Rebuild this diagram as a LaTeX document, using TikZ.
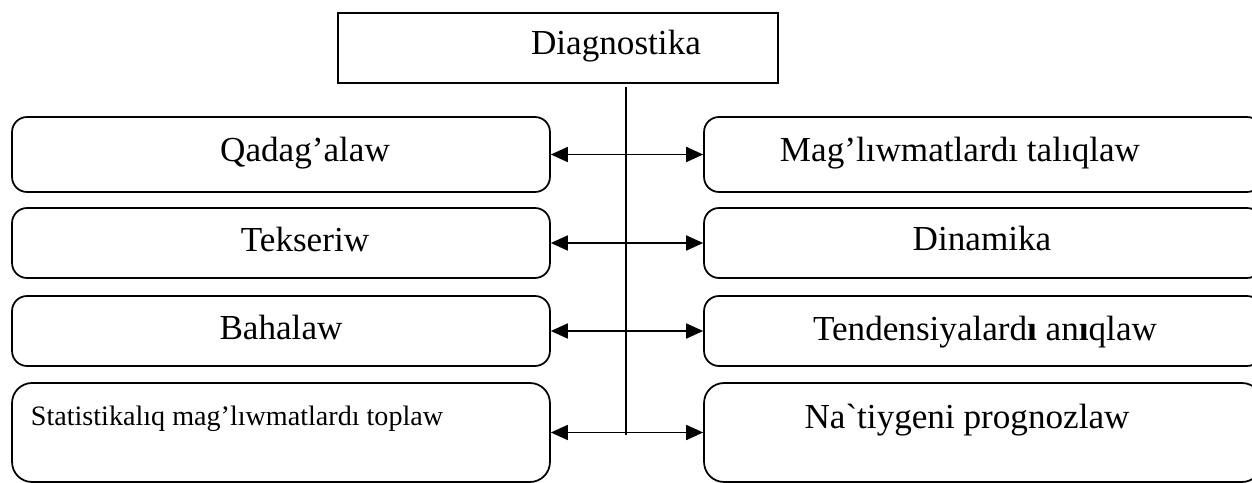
\documentclass[tikz,border=0pt]{standalone}
\usepackage{fontspec}
\setmainfont{Liberation Serif}[Ligatures=TeXOff]
\usetikzlibrary{arrows.meta}

\begin{document}
\begin{tikzpicture}[x=0.02cm, y=-0.02cm, >={Triangle[length=0.34cm, width=0.3cm]}]
	\tikzstyle{head}=[rectangle, draw, line width=1pt, inner sep=0pt,
	minimum width=8.8cm, minimum height=1.4cm]
	\tikzstyle{leftbox}=[rectangle, draw, line width=1pt, rounded corners=0.3cm,
	inner sep=0pt, minimum width=10.76cm, minimum height=1.4cm]
	\tikzstyle{rightbox}=[leftbox, minimum width=11.16cm]
	\tikzstyle{label}=[anchor=base, inner sep=0pt, font=\fontsize{20}{24}\selectfont]
	\tikzstyle{link}=[line width=1pt, <->]

	\useasboundingbox (0,0) rectangle (1252,483);

	% top box and trunk
	\node[head] at (558,48) (diag) {};
	\node[label] at (616,55) (diagtext) {Diagnostika};
	\coordinate (trunktop) at (626,87);
	\coordinate (trunkbot) at (626,435);
	\draw[line width=0.9pt] (trunktop) -- (trunkbot);

	% left column
	\node[leftbox, minimum height=1.5cm] at (281,154.5) (qadag) {};
	\node[leftbox] at (281,243) (tekser) {};
	\node[leftbox] at (281,331) (bahal) {};
	\node[leftbox, minimum height=1.98cm, rounded corners=0.4cm] at (281,432.5) (stat) {};

	\node[label] at (305,162) (qadagtext) {Qadag’alaw};
	\node[label] at (305,252) (tekseriwtext) {Tekseriw};
	\node[label] at (281,339) (bahalawtext) {Bahalaw};
	\node[label, font=\fontsize{16}{20}\selectfont] at (237,425) (stattext)
	{Statistikalıq mag’lıwmatlardı toplaw};

	% right column
	\node[rightbox, minimum height=1.5cm] at (983,154.5) (magl) {};
	\node[rightbox] at (983,243) (dinam) {};
	\node[rightbox] at (983,331) (tend) {};
	\node[rightbox, minimum height=1.98cm, rounded corners=0.4cm] at (983,432.5) (natiy) {};

	\node[label] at (960,162) (magltext) {Mag’lıwmatlardı talıqlaw};
	\node[label] at (982,251) (dinamtext) {Dinamika};
	\node[label] at (985,340) (tendtext) {Tendensiyalard\textbf{ı} an\textbf{ı}qlaw};
	\node[label] at (967,428) (natiytext) {Na`tiygeni prognozlaw};

	% arrows
	\draw[link] (qadag) -- (magl);
	\draw[link] (tekser) -- (dinam);
	\draw[link] (bahal) -- (tend);
	\draw[link] (stat) -- (natiy);
\end{tikzpicture}
\end{document}
